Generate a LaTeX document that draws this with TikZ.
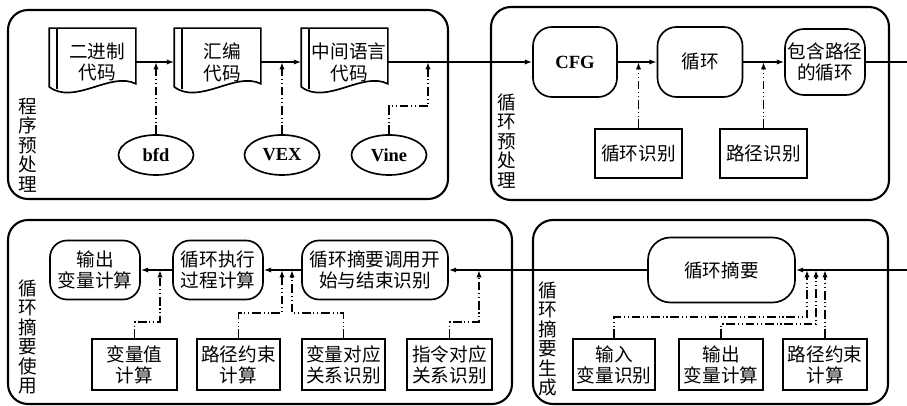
\documentclass[tikz,border=0pt]{standalone}
\usepackage{fontspec}
\setmainfont{Noto Sans CJK SC}
\newfontfamily\latinbf{Liberation Serif}
\usetikzlibrary{arrows.meta,shapes.geometric}

\begin{document}
\begin{tikzpicture}[line width=0.95pt, >={Latex[length=4.2pt,width=3pt]},
    font=\fontsize{10.6}{12}\selectfont,
    doc/.style={minimum width=1.52cm, minimum height=1.32cm, align=center, inner sep=0pt,
        font=\fontsize{10.6}{12.5}\selectfont},
    tool/.style={ellipse, draw, minimum width=1.5cm, minimum height=0.8cm, inner sep=1pt,
        font=\latinbf\bfseries\fontsize{10.5}{12}\selectfont},
    stage/.style={draw, rounded corners=0.38cm, align=center, inner xsep=1pt},
    task/.style={draw, align=center, minimum height=1.02cm, inner sep=1pt},
    panel/.style={line width=1.2pt, rounded corners=0.4cm},
    side/.style={align=center, font=\fontsize{10.6}{11.1}\selectfont},
    flow/.style={->},
    aux/.style={->, dash pattern=on 5pt off 1.6pt on 0.6pt off 1.6pt on 0.6pt off 1.6pt}]
    \useasboundingbox (0,0) rectangle (18.14,8.12);

    \draw[panel] (0.16,4.14) rectangle (8.96,7.92);
    \draw[panel] (9.82,4.12) rectangle (17.78,7.98);
    \draw[panel] (0.16,0.04) rectangle (10.24,3.72);
    \draw[panel] (10.66,0.04) rectangle (17.76,3.72);

    \node[side] (pre-lbl) at (0.56,5.22) {程\\序\\预\\处\\理};
    \node[side] (loop-lbl) at (10.14,5.3) {循\\环\\预\\处\\理};
    \node[side] (use-lbl) at (0.56,1.38) {循\\环\\摘\\要\\使\\用};
    \node[side] (gen-lbl) at (10.96,1.34) {循\\环\\摘\\要\\生\\成};

    \node[doc] (bin-code) at (1.94,6.88) {二进制\\代码};
    \node[doc] (asm-code) at (4.44,6.88) {汇编\\代码};
    \node[doc] (ir-code) at (6.98,6.88) {中间语言\\代码};
    % 文档形状：左侧竖条，底边为波浪线
    \foreach \n in {bin-code,asm-code,ir-code} {
        \draw ([xshift=-0.18cm]\n.north west) -- (\n.north east) -- ([yshift=0.24cm]\n.south east)
            .. controls ([xshift=-0.5cm,yshift=0.5cm]\n.south east)
            and ([xshift=0.32cm,yshift=-0.2cm]\n.south west)
            .. ([xshift=-0.18cm,yshift=0.18cm]\n.south west) -- cycle;
        \draw ([xshift=-0.02cm]\n.north west) -- ([xshift=-0.02cm,yshift=0.14cm]\n.south west);
    }
    \node[tool] (bfd) at (3.12,5.02) {bfd};
    \node[tool] (vex) at (5.64,5.02) {VEX};
    \node[tool] (vine) at (7.78,5.02) {Vine};

    \node[stage, minimum width=1.68cm, minimum height=1.4cm] (cfg) at (11.5,6.88)
        {\latinbf\bfseries CFG};
    \node[stage, minimum width=1.7cm, minimum height=1.4cm] (loop) at (14.0,6.88) {循环};
    \node[stage, minimum width=1.6cm, minimum height=1.32cm] (path-loop) at (16.5,6.88)
        {包含路径\\的循环};
    \node[task, minimum width=1.74cm, minimum height=0.98cm] (loop-id) at (12.77,5.05) {循环识别};
    \node[task, minimum width=1.74cm, minimum height=0.98cm] (path-id) at (15.27,5.05) {路径识别};

    \node[stage, rounded corners=0.34cm, minimum width=1.8cm, minimum height=1.18cm] (out-calc)
        at (1.9,2.72) {输出\\变量计算};
    \node[stage, rounded corners=0.34cm, minimum width=1.8cm, minimum height=1.18cm] (exec-calc)
        at (4.36,2.72) {循环执行\\过程计算};
    \node[stage, rounded corners=0.34cm, minimum width=2.92cm, minimum height=1.18cm] (call-id)
        at (7.5,2.72) {循环摘要调用开\\始与结束识别};
    \node[stage, rounded corners=0.45cm, minimum width=2.94cm, minimum height=1.3cm] (summary)
        at (14.43,2.72) {循环摘要};

    \node[task, minimum width=1.7cm] (var-val) at (2.69,0.83) {变量值\\计算};
    \node[task, minimum width=1.66cm] (path-cons) at (4.77,0.83) {路径约束\\计算};
    \node[task, minimum width=1.66cm] (var-map) at (6.87,0.83) {变量对应\\关系识别};
    \node[task, minimum width=1.7cm] (ins-map) at (8.99,0.83) {指令对应\\关系识别};
    \node[task, minimum width=1.64cm] (in-id) at (12.28,0.83) {输入\\变量识别};
    \node[task, minimum width=1.68cm] (out-var) at (14.42,0.83) {输出\\变量计算};
    \node[task, minimum width=1.68cm] (path-cons2) at (16.5,0.83) {路径约束\\计算};

    \coordinate (vine-in) at (8.56,6.88);
    \coordinate (top-out) at (18.14,6.88);
    \coordinate (bot-in) at (18.14,2.72);
    \coordinate (j-val) at (3.2,2.72);
    \coordinate (j-cons) at (5.64,2.72);
    \coordinate (j-map) at (5.84,2.72);
    \coordinate (j-ins) at (9.58,2.72);
    \coordinate (j-in) at (16.14,2.72);
    \coordinate (j-out) at (16.32,2.72);

    \draw[flow] (bin-code.east) -- ([xshift=-0.18cm]asm-code.west);
    \draw[flow] (asm-code.east) -- ([xshift=-0.18cm]ir-code.west);
    \draw[flow] (ir-code.east) -- (cfg.west);
    \draw[flow] (cfg) -- (loop);
    \draw[flow] (loop) -- (path-loop);
    \draw (path-loop) -- (top-out);
    \draw[aux] (bfd) -- (bfd |- bin-code.east);
    \draw[aux] (vex) -- (vex |- asm-code.east);
    \draw[aux] (vine.north) -- ++(0,0.56) -| (vine-in);
    \draw[aux] (loop-id) -- (loop-id |- cfg.east);
    \draw[aux] (path-id) -- (path-id |- loop.east);

    % 下半部分从右向左
    \draw[flow] (bot-in) -- (summary);
    \draw[flow] (summary) -- (call-id);
    \draw[flow] (call-id) -- (exec-calc);
    \draw[flow] (exec-calc) -- (out-calc);
    \draw[aux] (var-val.north) -- ++(0,0.32) -| (j-val);
    \draw[aux] (path-cons.north) -- ++(0,0.5) -| (j-cons);
    \draw[aux] (var-map.north) -- ++(0,0.5) -| (j-map);
    \draw[aux] (ins-map.north) -- ++(0,0.32) -| (j-ins);
    \draw[aux] (in-id.north) -- ++(0,0.42) -| (j-in);
    \draw[aux] (out-var.north) -- ++(0,0.28) -| (j-out);
    \draw[aux] (path-cons2) -- (path-cons2 |- summary.east);
\end{tikzpicture}
\end{document}
